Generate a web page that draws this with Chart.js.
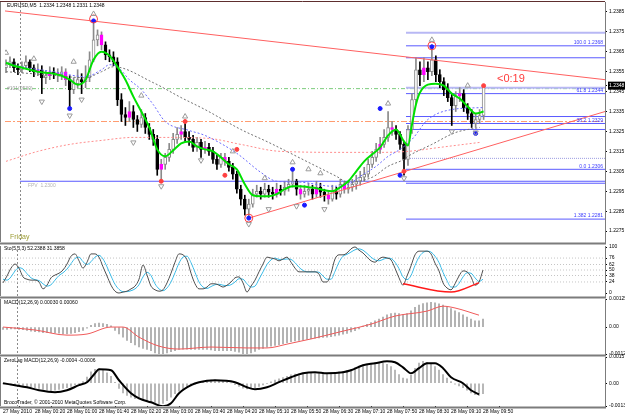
<!DOCTYPE html>
<html>
<head>
<meta charset="utf-8">
<script src="https://cdn.jsdelivr.net/npm/chart.js@4.4.1/dist/chart.umd.min.js"></script>
<style>
  body { margin: 0; background: #fff; }
  #wrap { position: relative; width: 625px; height: 417px; overflow: hidden; background: #fff; }
  #wrap canvas { position: absolute; left: 0; }
</style>
</head>
<body>
<div id="wrap">
  <canvas id="main"></canvas>
  <canvas id="stoch"></canvas>
  <canvas id="macd"></canvas>
  <canvas id="zlmacd"></canvas>
</div>
<script>
// EURUSD M5 candles, one entry per bar
const open = [1.23570,1.23585,1.23600,1.23570,1.23560,1.23580,1.23600,1.23570,1.23550,1.23560,
1.23520,1.23530,1.23550,1.23545,1.23535,1.23550,1.23510,1.23460,1.23490,1.23510,
1.23500,1.23520,1.23610,1.23710,1.23735,1.23685,1.23635,1.23625,1.23600,1.23410,
1.23335,1.23320,1.23350,1.23310,1.23285,1.23320,1.23270,1.23235,1.23210,1.23060,
1.23085,1.23120,1.23160,1.23210,1.23235,1.23250,1.23220,1.23210,1.23170,1.23195,
1.23160,1.23170,1.23150,1.23110,1.23085,1.23120,1.23100,1.23070,1.23035,1.22960,
1.22910,1.22860,1.22885,1.22935,1.22950,1.22935,1.22960,1.22945,1.22935,1.22960,
1.22950,1.22970,1.22985,1.23000,1.22960,1.22935,1.22950,1.22960,1.22935,1.22970,
1.22945,1.22930,1.22910,1.22950,1.22935,1.22985,1.22960,1.22970,1.22985,1.23000,
1.23020,1.23035,1.23085,1.23120,1.23160,1.23185,1.23220,1.23270,1.23260,1.23235,
1.23185,1.23110,1.23260,1.23410,1.23560,1.23535,1.23570,1.23550,1.23610,1.23535,
1.23500,1.23460,1.23420,1.23380,1.23430,1.23440,1.23370,1.23340,1.23290,1.23310,
1.23330];
const close = [1.23585,1.23600,1.23570,1.23560,1.23580,1.23600,1.23570,1.23550,1.23560,1.23520,
1.23530,1.23550,1.23545,1.23535,1.23550,1.23510,1.23460,1.23490,1.23510,1.23500,
1.23520,1.23610,1.23710,1.23735,1.23685,1.23635,1.23625,1.23600,1.23410,1.23335,
1.23320,1.23350,1.23310,1.23285,1.23320,1.23270,1.23235,1.23210,1.23060,1.23085,
1.23120,1.23160,1.23210,1.23235,1.23250,1.23220,1.23210,1.23170,1.23195,1.23160,
1.23170,1.23150,1.23110,1.23085,1.23120,1.23100,1.23070,1.23035,1.22960,1.22910,
1.22860,1.22885,1.22935,1.22950,1.22935,1.22960,1.22945,1.22935,1.22960,1.22950,
1.22970,1.22985,1.23000,1.22960,1.22935,1.22950,1.22960,1.22935,1.22970,1.22945,
1.22930,1.22910,1.22950,1.22935,1.22985,1.22960,1.22970,1.22985,1.23000,1.23020,
1.23035,1.23085,1.23120,1.23160,1.23185,1.23220,1.23270,1.23260,1.23235,1.23185,
1.23110,1.23260,1.23410,1.23560,1.23535,1.23570,1.23550,1.23610,1.23535,1.23500,
1.23460,1.23420,1.23380,1.23430,1.23440,1.23370,1.23340,1.23290,1.23310,1.23330,
1.23480];
const high = [1.23610,1.23625,1.23615,1.23590,1.23600,1.23630,1.23610,1.23585,1.23590,1.23580,
1.23555,1.23575,1.23570,1.23565,1.23575,1.23565,1.23530,1.23520,1.23560,1.23540,
1.23580,1.23650,1.23810,1.23760,1.23750,1.23700,1.23660,1.23650,1.23620,1.23440,
1.23370,1.23400,1.23380,1.23330,1.23360,1.23340,1.23290,1.23260,1.23230,1.23110,
1.23140,1.23190,1.23240,1.23270,1.23280,1.23300,1.23250,1.23230,1.23220,1.23210,
1.23200,1.23190,1.23170,1.23130,1.23140,1.23140,1.23120,1.23090,1.23050,1.22980,
1.22930,1.22910,1.22960,1.22980,1.22970,1.22990,1.22980,1.22970,1.22990,1.22980,
1.23000,1.23010,1.23060,1.23010,1.22980,1.22980,1.22990,1.22980,1.23000,1.22990,
1.22960,1.22950,1.22980,1.22970,1.23010,1.23000,1.23000,1.23010,1.23030,1.23050,
1.23070,1.23110,1.23150,1.23190,1.23220,1.23260,1.23350,1.23300,1.23280,1.23250,
1.23200,1.23280,1.23440,1.23620,1.23600,1.23620,1.23600,1.23685,1.23630,1.23560,
1.23520,1.23490,1.23440,1.23450,1.23470,1.23460,1.23390,1.23360,1.23340,1.23360,
1.23480];
const low = [1.23545,1.23570,1.23550,1.23535,1.23545,1.23565,1.23550,1.23525,1.23530,1.23440,
1.23490,1.23510,1.23515,1.23500,1.23510,1.23480,1.23360,1.23440,1.23470,1.23440,
1.23470,1.23500,1.23600,1.23680,1.23660,1.23610,1.23600,1.23580,1.23380,1.23300,
1.23280,1.23300,1.23270,1.23250,1.23270,1.23240,1.23210,1.23180,1.23030,1.23000,
1.23060,1.23100,1.23140,1.23190,1.23210,1.23200,1.23180,1.23150,1.23150,1.23120,
1.23140,1.23130,1.23090,1.23060,1.23070,1.23080,1.23050,1.23010,1.22940,1.22880,
1.22830,1.22810,1.22870,1.22920,1.22910,1.22920,1.22920,1.22910,1.22920,1.22930,
1.22930,1.22950,1.22970,1.22930,1.22910,1.22920,1.22930,1.22910,1.22920,1.22920,
1.22900,1.22885,1.22900,1.22910,1.22920,1.22940,1.22940,1.22950,1.22960,1.22980,
1.23000,1.23020,1.23070,1.23100,1.23140,1.23170,1.23200,1.23230,1.23210,1.23160,
1.23030,1.23080,1.23240,1.23390,1.23480,1.23500,1.23510,1.23530,1.23500,1.23470,
1.23430,1.23400,1.23280,1.23350,1.23400,1.23350,1.23310,1.23270,1.23270,1.23290,
1.23310];
// candles painted magenta on the chart
const magentaIdx = [8, 11, 13, 15, 24, 31, 39, 44, 50, 55, 68, 74, 78, 81, 85, 94, 97, 105, 114];

const timeLabels = ['27 May 2010', '28 May 00:20', '28 May 01:00', '28 May 01:40', '28 May 02:20',
  '28 May 03:00', '28 May 03:40', '28 May 04:20', '28 May 05:10', '28 May 05:50', '28 May 06:30',
  '28 May 07:10', '28 May 07:50', '28 May 08:30', '28 May 09:10', '28 May 09:50'];
const barsPerLabel = 8;
const separatorBar = 3.5;

// price axis
const priceTicks = [1.2385, 1.2375, 1.2365, 1.2355, 1.2345, 1.2335, 1.2325, 1.2315, 1.2305, 1.2295, 1.2285, 1.2275];
const currentPrice = 1.2348;

// moving averages (bar index / price)
const greenX = [0,2,4,6,8,10,12,14,16,18,20,22,24,26,28,30,32,34,36,38,40,42,44,46,48,50,52,54,56,58,60,62,64,66,68,70,72,74,76,78,80,82,84,86,88,90,92,94,96,98,100,101,102,103,104,106,108,110,112,114,116,118,120];
const greenY = [1.23595,1.23580,1.23570,1.23560,1.23550,1.23545,1.23540,1.23530,1.23510,1.23485,1.23510,1.23610,1.23650,1.23630,1.23575,1.23510,1.23425,1.23350,1.23270,1.23160,1.23125,1.23155,1.23190,1.23200,1.23175,1.23160,1.23150,1.23120,1.23085,1.23060,1.22985,1.22930,1.22925,1.22925,1.22935,1.22960,1.22975,1.22975,1.22970,1.22965,1.22955,1.22950,1.22970,1.23000,1.23050,1.23100,1.23135,1.23170,1.23230,1.23260,1.23200,1.23180,1.23285,1.23385,1.23445,1.23485,1.23490,1.23480,1.23440,1.23415,1.23375,1.23340,1.23350];
const blueX = [0,4,12,20,24,26,28,31,34,37,40,46,50,58,64,68,74,82,86,89,93,96,99,102,106,112,120];
const blueY = [1.23595,1.23575,1.23550,1.23525,1.23560,1.23585,1.23575,1.23510,1.23460,1.23385,1.23300,1.23255,1.23230,1.23140,1.23045,1.23000,1.22995,1.22975,1.22985,1.23025,1.23075,1.23125,1.23160,1.23210,1.23310,1.23360,1.23370];
const grayX = [0,10,20,24,27,37,44,50,59,66,76,83,86,92,96,100,101,107,113,119];
const grayY = [1.23550,1.23535,1.23520,1.23550,1.23575,1.23495,1.23420,1.23360,1.23260,1.23195,1.23095,1.23025,1.22995,1.23020,1.23075,1.23110,1.23125,1.23185,1.23245,1.23270];
const salmonX = [0,8,16,24,32,41,51,59,69,86,94,101,109,119];
const salmonY = [1.23100,1.23150,1.23185,1.23205,1.23220,1.23220,1.23215,1.23185,1.23150,1.23145,1.23145,1.23150,1.23170,1.23195];

// trend lines
const trendUpperX = [-0.25, 150.5];
const trendUpperY = [1.23855, 1.23510];
const trendLowerX = [61, 150.5];
const trendLowerY = [1.22815, 1.23350];

// horizontal levels
const fibStartBar = 100.5;
const fibLevels = [1.2368, 1.2344, 1.2329, 1.2306, 1.2281];
const fibTexts = ['100.0 1.2368', '61.8 1.2344', '38.2 1.2329', '0.0 1.2306', '1.382 1.2281'];
const fibExtra = [1.2362, 1.23325, 1.2326, 1.2299];
const fibBands = [1.23745, 1.2347];
const fibDotted = 1.23115;
const fpvStartBar = 3.5;
const fpvLevel = 1.2300;
const pivotGreen = 1.23465;
const orangeLevel = 1.2330;

// fractal arrows and dots
const upFracX = [0, 7, 17, 22, 34, 45, 57, 65, 72, 76, 79, 96, 107, 116];
const upFracY = [1.23645, 1.23615, 1.23600, 1.23840, 1.23430, 1.23325, 1.23150, 1.23015, 1.23095, 1.23060, 1.23040, 1.23390, 1.23710, 1.23480];
const downFracX = [9, 16, 19, 32, 39, 49, 61, 66, 73, 80, 100, 112, 118];
const downFracY = [1.23400, 1.23330, 1.23410, 1.23195, 1.22975, 1.23105, 1.22785, 1.22860, 1.22875, 1.22860, 1.23015, 1.23250, 1.23245];
const blueDotX = [16, 22, 61, 72, 75, 94, 99, 107, 118];
const blueDotY = [1.23365, 1.23805, 1.22815, 1.23060, 1.22880, 1.23365, 1.23030, 1.23675, 1.23240];
const redDotX = [39, 45, 55, 58, 100, 120];
const redDotY = [1.23000, 1.23300, 1.23030, 1.23160, 1.23050, 1.23480];
const circleX = [22, 61, 107];
const circleY = [1.23815, 1.22815, 1.23680];

// Stochastic(5,3,3)
const stochMain = [22,37,54,63,54,35,30,28,28,24,
9,17,33,39,43,50,63,80,85,70,
54,67,85,85,78,57,37,17,4,0,
2,4,9,15,30,61,39,15,7,4,
7,22,43,67,85,83,72,43,20,9,
9,13,20,20,17,13,17,24,33,35,
22,2,15,28,46,63,78,76,74,70,
74,78,67,54,46,46,46,46,46,41,
24,24,43,74,83,83,87,96,100,93,
87,78,70,67,74,78,76,72,54,33,
17,37,59,83,91,91,91,85,65,48,
22,11,7,20,37,48,46,35,17,24,
50];
const stochSignal = [30,28,35,48,55,52,42,33,29,27,
20,15,18,28,38,44,52,64,75,78,
68,62,68,78,82,74,57,37,19,8,
3,3,5,9,18,35,45,38,20,9,
5,11,24,44,65,78,80,66,45,24,
13,10,14,18,19,17,16,18,24,31,
30,20,13,15,30,46,62,72,76,73,
73,74,73,66,56,49,46,46,46,45,
37,30,30,47,67,80,84,89,94,96,
93,86,78,72,70,73,76,75,67,53,
35,29,38,60,78,88,91,89,80,66,
45,27,13,13,21,35,44,43,33,25,
30];
const stochLevels = [24, 38, 50, 62, 76];
const stochTicks = [100, 76, 62, 50, 38, 24, 0];
const divX = [100, 112, 119];
const divY = [20, 2, 22];

// MACD(12,26,9)
const macdHist = [-0.00010,-0.00010,-0.00008,-0.00008,-0.00010,-0.00012,-0.00015,-0.00018,-0.00020,-0.00022,
-0.00025,-0.00025,-0.00025,-0.00026,-0.00027,-0.00030,-0.00030,-0.00028,-0.00025,-0.00020,
-0.00015,-0.00005,0.00008,0.00015,0.00018,0.00016,0.00012,0.00005,-0.00015,-0.00030,
-0.00045,-0.00060,-0.00070,-0.00080,-0.00088,-0.00095,-0.00100,-0.00105,-0.00115,-0.00118,
-0.00118,-0.00115,-0.00110,-0.00105,-0.00100,-0.00098,-0.00098,-0.00100,-0.00100,-0.00100,
-0.00100,-0.00100,-0.00102,-0.00105,-0.00105,-0.00105,-0.00105,-0.00105,-0.00108,-0.00112,
-0.00118,-0.00118,-0.00115,-0.00108,-0.00100,-0.00095,-0.00090,-0.00085,-0.00082,-0.00078,
-0.00074,-0.00070,-0.00065,-0.00062,-0.00060,-0.00058,-0.00055,-0.00052,-0.00050,-0.00048,
-0.00046,-0.00045,-0.00043,-0.00040,-0.00036,-0.00032,-0.00028,-0.00022,-0.00016,-0.00008,
0.00004,0.00012,0.00020,0.00028,0.00036,0.00045,0.00055,0.00060,0.00062,0.00060,
0.00055,0.00060,0.00072,0.00088,0.00098,0.00105,0.00108,0.00110,0.00108,0.00104,
0.00098,0.00090,0.00082,0.00072,0.00064,0.00055,0.00045,0.00035,0.00028,0.00028,
0.00036];
const macdSigX = [0,8,16,21,27,30,34,39,44,52,61,66,71,77,85,92,98,106,110,113,119];
const macdSigY = [0,-0.00013,-0.00036,-0.00031,0,0,-0.00045,-0.00085,-0.00098,-0.00089,-0.00093,-0.00093,-0.00076,-0.00053,-0.00018,0.00013,0.00049,0.00071,0.00093,0.00085,0.00053];
const macdTicks = [0.00125, 0, -0.00120];

// ZeroLag MACD(12,26,9)
const zlHist = [0.00000,-0.00005,-0.00010,-0.00012,-0.00015,-0.00018,-0.00020,-0.00022,-0.00025,-0.00030,
-0.00035,-0.00040,-0.00042,-0.00040,-0.00035,-0.00030,-0.00025,-0.00018,-0.00010,-0.00002,
0.00010,0.00035,0.00065,0.00080,0.00082,0.00075,0.00060,0.00040,0.00005,-0.00030,
-0.00055,-0.00070,-0.00080,-0.00088,-0.00090,-0.00095,-0.00100,-0.00105,-0.00115,-0.00120,
-0.00115,-0.00100,-0.00080,-0.00060,-0.00045,-0.00035,-0.00025,-0.00015,-0.00005,0.00005,
0.00010,0.00015,0.00018,0.00018,0.00015,0.00012,0.00008,0.00002,-0.00008,-0.00018,
-0.00028,-0.00032,-0.00030,-0.00025,-0.00018,-0.00010,-0.00002,0.00008,0.00018,0.00025,
0.00032,0.00040,0.00048,0.00052,0.00055,0.00058,0.00060,0.00058,0.00055,0.00055,
0.00055,0.00055,0.00058,0.00062,0.00065,0.00068,0.00072,0.00080,0.00090,0.00098,
0.00105,0.00110,0.00112,0.00115,0.00118,0.00115,0.00108,0.00095,0.00075,0.00050,
0.00030,0.00025,0.00045,0.00085,0.00115,0.00125,0.00120,0.00110,0.00095,0.00075,
0.00050,0.00030,0.00010,-0.00005,-0.00015,-0.00025,-0.00040,-0.00055,-0.00065,-0.00070,
-0.00060];
const zlLineX = [0,3,6,9,13,16,19,21,23,24,27,29,32,34,37,40,42,44,47,49,53,58,61,63,66,69,72,75,78,81,85,87,90,93,96,98,100,102,104,106,108,110,112,115,117,119];
const zlLineY = [0,-0.00011,-0.00023,-0.00040,-0.00051,-0.00040,-0.00011,0.00006,0.00057,0.00080,0.00074,0.00017,-0.00057,-0.00086,-0.00109,-0.00131,-0.00114,-0.00057,-0.00011,0.00006,0.00017,0.00006,-0.00023,-0.00034,-0.00023,0.00006,0.00034,0.00057,0.00063,0.00057,0.00063,0.00074,0.00103,0.00114,0.00126,0.00120,0.00091,0.00057,0.00086,0.00114,0.00114,0.00086,0.00034,0,-0.00040,-0.00063];
const zlTicks = [0.0015, 0, -0.0013];

const X_MIN = -0.25, X_MAX = 150.5;
const FAMILY = '"Liberation Sans", Arial, sans-serif';
const tickFont = { family: FAMILY, size: 5 };
const barIdx = close.map((c, i) => i);

// ---------- plugins ----------
const framePlugin = {
  id: 'frame',
  beforeDatasetsDraw(chart) {
    const { ctx, chartArea: a, scales } = chart;
    const sx = Math.round(scales.x.getPixelForValue(separatorBar)) + 0.5;
    ctx.save();
    ctx.strokeStyle = '#8a8a8a';
    ctx.lineWidth = 1;
    ctx.setLineDash([2, 2]);
    ctx.beginPath();
    ctx.moveTo(sx, a.top);
    ctx.lineTo(sx, a.bottom);
    ctx.stroke();
    ctx.restore();
  },
  afterDraw(chart, args, opts) {
    const { ctx, chartArea: a } = chart;
    ctx.save();
    ctx.strokeStyle = '#7c7c7c';
    ctx.lineWidth = 2;
    ctx.beginPath();
    ctx.moveTo(0, a.bottom + 1.5);
    ctx.lineTo(a.right + 1, a.bottom + 1.5);
    ctx.stroke();
    ctx.lineWidth = 1;
    ctx.beginPath();
    ctx.moveTo(0.5, a.top);
    ctx.lineTo(0.5, a.bottom);
    ctx.stroke();
    if (opts.top) {
      ctx.strokeStyle = '#5e2e2e';
      ctx.beginPath();
      ctx.moveTo(0, a.top - 0.5);
      ctx.lineTo(a.right, a.top - 0.5);
      ctx.stroke();
    }
    ctx.restore();
  }
};

const notesPlugin = {
  id: 'notes',
  afterDatasetsDraw(chart, args, opts) {
    const { ctx, chartArea: a, scales } = chart;
    (opts.items || []).forEach(n => {
      let x = n.xv !== undefined ? scales.x.getPixelForValue(n.xv) : (n.right ? a.right - n.dx : a.left + n.dx);
      let y = n.yv !== undefined ? scales.y.getPixelForValue(n.yv) + (n.dy || 0) : a.top + n.dy;
      ctx.save();
      ctx.font = (n.size || 5) + 'px ' + FAMILY;
      ctx.fillStyle = n.color || '#000';
      ctx.textAlign = n.right ? 'right' : 'left';
      ctx.textBaseline = 'middle';
      ctx.fillText(n.t, x, y);
      ctx.restore();
    });
  }
};

// ---------- helpers ----------
function lineSet(xs, ys, color, width, dash, order) {
  return {
    type: 'line', order: order,
    data: xs.map((x, k) => ({ x: x, y: ys[k] })),
    borderColor: color, borderWidth: width, borderDash: dash || [],
    pointRadius: 0, fill: false, cubicInterpolationMode: 'monotone'
  };
}

function hline(y, x0, color, width, dash) {
  return lineSet([x0, X_MAX], [y, y], color, width, dash, 20);
}

function markerSet(xs, ys, style, radius, fillColor, lineColor, rotation) {
  return {
    type: 'scatter', order: 1,
    data: xs.map((x, k) => ({ x: x, y: ys[k] })),
    pointStyle: style, pointRadius: radius, pointRotation: rotation || 0,
    pointBackgroundColor: fillColor, pointBorderColor: lineColor, pointBorderWidth: 1
  };
}

function histSet(values, color) {
  return {
    type: 'bar', order: 10, grouped: false, barThickness: 1,
    data: barIdx.map(i => ({ x: i, y: values[i] })),
    backgroundColor: color
  };
}

function xScale(showTime) {
  return {
    type: 'linear', min: X_MIN, max: X_MAX, offset: false, display: showTime,
    afterBuildTicks: s => { s.ticks = timeLabels.map((t, k) => ({ value: k * barsPerLabel })); },
    afterFit: s => { s.height = showTime ? 11 : 0; },
    ticks: {
      autoSkip: false, maxRotation: 0, minRotation: 0, align: 'start', padding: 1,
      color: '#000', font: tickFont, callback: (v, k) => timeLabels[k]
    },
    grid: { drawOnChartArea: false, drawTicks: true, tickLength: 2, color: '#000' },
    border: { display: false }
  };
}

function yScale(min, max, ticks, fmt, extraTicks) {
  return {
    position: 'right', min: min, max: max,
    afterFit: s => { s.width = 20; },
    afterBuildTicks: s => { s.ticks = ticks.concat(extraTicks || []).map(v => ({ value: v })); },
    ticks: {
      autoSkip: false, padding: 2, font: tickFont, callback: fmt,
      color: ctx => ctx.tick && ctx.tick.value === currentPrice ? '#ffffff' : '#000000',
      showLabelBackdrop: ctx => !!(ctx.tick && ctx.tick.value === currentPrice),
      backdropColor: '#000000',
      backdropPadding: 1
    },
    grid: { drawOnChartArea: false, drawTicks: true, tickLength: 2, color: '#000', tickColor: '#000' },
    border: { color: '#7c7c7c', width: 1 }
  };
}

function makeChart(id, top, height, pad, datasets, y, showTime, notes, frame) {
  const cv = document.getElementById(id);
  cv.width = 625;
  cv.height = height;
  cv.style.top = top + 'px';
  return new Chart(cv, {
    type: 'bar',
    data: { datasets: datasets },
    options: {
      responsive: false, animation: false, events: [], devicePixelRatio: 1,
      layout: { padding: { left: 2, right: 0, top: pad[0], bottom: pad[1] } },
      plugins: {
        legend: { display: false }, tooltip: { enabled: false },
        notes: { items: notes }, frame: frame || {}
      },
      scales: { x: xScale(showTime), y: y }
    },
    plugins: [framePlugin, notesPlugin]
  });
}

// ---------- main price panel ----------
const isBull = i => close[i] >= open[i];
const isMagenta = i => magentaIdx.includes(i);

const mainSets = [
  hline(fibBands[0], fibStartBar, '#b8b8f4', 2),
  hline(fibBands[1], fibStartBar, '#b8b8f4', 2),
  hline(fibDotted, fibStartBar, '#9a9ae0', 1, [1, 1]),
  hline(pivotGreen, X_MIN, '#7ccc7c', 1, [4, 2, 1, 2]),
  hline(orangeLevel, X_MIN, '#ff9c70', 1, [6, 2, 2, 2]),
  hline(fpvLevel, fpvStartBar, '#5a5aff', 1),
  ...fibLevels.map(v => hline(v, fibStartBar, '#5a5aff', 1)),
  ...fibExtra.map(v => hline(v, fibStartBar, '#5a5aff', 1)),
  {
    type: 'bar', order: 12, grouped: false, barThickness: 1,
    data: barIdx.map(i => ({ x: i, y: [low[i], high[i]] })),
    backgroundColor: barIdx.map(i => isBull(i) || isMagenta(i) ? '#8a8a8a' : '#000000')
  },
  {
    type: 'bar', order: 11, grouped: false, barThickness: 3, borderWidth: 1, borderSkipped: false,
    data: barIdx.map(i => ({ x: i, y: [open[i], close[i]] })),
    backgroundColor: barIdx.map(i => isMagenta(i) ? '#ff00ff' : isBull(i) ? '#ffffff' : '#000000'),
    borderColor: barIdx.map(i => isMagenta(i) ? '#ff00ff' : isBull(i) ? '#8a8a8a' : '#000000')
  },
  lineSet(salmonX, salmonY, '#ff8c8c', 1, [2, 2], 6),
  lineSet(grayX, grayY, '#707070', 1, [2, 2], 6),
  lineSet(blueX, blueY, '#6a6aff', 1, [2, 2], 5),
  lineSet(greenX, greenY, '#00e000', 2, [], 4),
  lineSet(trendUpperX, trendUpperY, '#ff6060', 1, [], 3),
  lineSet(trendLowerX, trendLowerY, '#ff6060', 1, [], 3),
  markerSet(upFracX, upFracY, 'triangle', 3, 'rgba(0,0,0,0)', '#9a9a9a'),
  markerSet(downFracX, downFracY, 'triangle', 3, 'rgba(0,0,0,0)', '#9a9a9a', 180),
  markerSet(circleX, circleY, 'circle', 4, 'rgba(0,0,0,0)', '#ff4040'),
  markerSet(blueDotX, blueDotY, 'circle', 2, '#1a1aff', '#1a1aff'),
  markerSet(redDotX, redDotY, 'circle', 2, '#ff4040', '#ff4040')
];

const mainNotes = [
  { t: 'EURUSD,M5  1.2334 1.2348 1.2331 1.2348', dx: 2, dy: 4 },
  { t: 'Friday', dx: 5, dy: 235, color: '#9c9c34', size: 7 },
  { t: '#101(0530)', dx: 2, yv: pivotGreen, color: '#9a9a9a' },
  { t: 'FPV  1.2300', xv: 5.5, yv: fpvLevel, dy: 4, color: '#b4b4b4' },
  { t: '<0:19', dx: 492, dy: 77, color: '#ff3a3a', size: 11 },
  ...fibLevels.map((v, k) => ({ t: fibTexts[k], right: true, dx: 2, yv: v, dy: -3, color: '#3a3aff' }))
];

makeChart('main', -4, 251, [6, 4], mainSets,
  yScale(1.22695, 1.2390, priceTicks, v => v.toFixed(4), [currentPrice]),
  false, mainNotes, { top: true });

// ---------- stochastic ----------
makeChart('stoch', 240, 62, [6, 6], [
  ...stochLevels.map(v => hline(v, X_MIN, '#c4c4c4', 1, [1, 2])),
  lineSet(barIdx, stochSignal, '#3cbce8', 1, [], 4),
  lineSet(barIdx, stochMain, '#505050', 1, [], 3),
  lineSet(divX, divY, '#ff1a1a', 1.5, [], 2)
], yScale(-6.5, 102.2, stochTicks, v => String(v)), false,
  [{ t: 'Sto(5,3,3) 52.2388 31.3858', dx: 2, dy: 3 }]);

// ---------- MACD ----------
makeChart('macd', 293, 67, [6, 6], [
  histSet(macdHist, '#a4a4a4'),
  lineSet(macdSigX, macdSigY, '#f05a5a', 1, [], 3)
], yScale(-0.00120, 0.00125, macdTicks, v => v === 0 ? '0.00' : v.toFixed(5)), false,
  [{ t: 'MACD(12,26,9) 0.00030 0.00060', dx: 2, dy: 4 }]);

// ---------- ZeroLag MACD ----------
makeChart('zlmacd', 351, 66, [6, 0], [
  histSet(zlHist, '#aaaaaa'),
  lineSet(zlLineX, zlLineY, '#000000', 2, [], 3)
], yScale(-0.0013, 0.0015, zlTicks, v => v === 0 ? '0.00' : v.toFixed(4)), true,
  [{ t: 'ZeroLag MACD(12,26,9) -0.0004 -0.0006', dx: 2, dy: 4 },
   { t: 'BrocoTrader, \u00a9 2001-2010 MetaQuotes Software Corp.', dx: 2, dy: 46 }]);
</script>
</body>
</html>
